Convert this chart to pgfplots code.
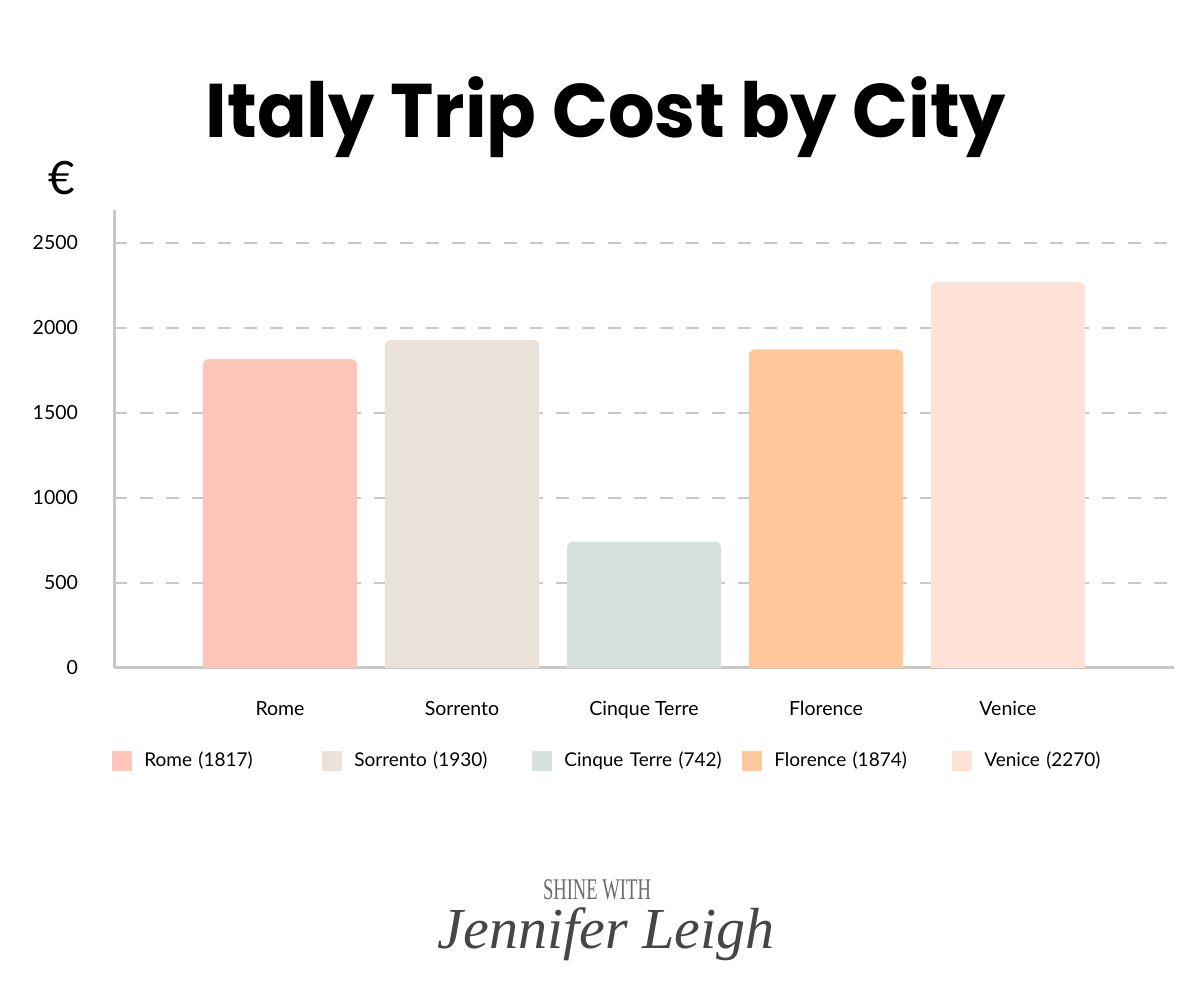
\documentclass[border=0pt]{standalone}
\usepackage{pgfplots}
\pgfplotsset{compat=1.18}
\usepackage{fontspec}
\setmainfont{Lato}
\newfontfamily\titlefont{Poppins}
\newfontfamily\markfont{Liberation Serif}
\definecolor{cRome}{RGB}{253,196,185}
\definecolor{cSorrento}{RGB}{235,226,217}
\definecolor{cCinque}{RGB}{214,225,219}
\definecolor{cFlorence}{RGB}{255,199,154}
\definecolor{cVenice}{RGB}{255,226,214}
\definecolor{axgray}{RGB}{200,200,200}
\definecolor{markgray}{RGB}{70,70,70}
\newcommand{\citybar}[3]{%
  \addplot[fill=#3, draw=none, bar shift=0pt, rounded corners=3pt] table[row sep=\\] {x y\\ #1 #2\\};
  \addplot[fill=#3, draw=none, bar shift=0pt, sharp corners, forget plot] table[row sep=\\, y expr=\thisrow{y}/2] {x y\\ #1 #2\\};
}
\begin{document}
\begin{tikzpicture}[x=1pt,y=1pt]
\path[use as bounding box, fill=white] (0,0) rectangle (600,500);
\node[anchor=base, font=\titlefont\bfseries\fontsize{38}{38}\selectfont] at (303,431) {\scalebox{0.965}[1]{Italy Trip Cost by City}};
\node[anchor=base, font=\fontsize{23}{23}\selectfont] at (31,402.5) {€};
\begin{axis}[
  at={(57pt,166pt)}, anchor=south west,
  scale only axis, width=530pt, height=229pt,
  ybar, bar width=77pt,
  xmin=-0.912, xmax=4.912, ymin=0, ymax=2694,
  axis x line*=bottom, axis y line*=left,
  axis line style={draw=axgray, line width=1.5pt},
  major tick length=0pt,
  xtick={0,1,2,3,4},
  xticklabels={Rome,Sorrento,Cinque Terre,Florence,Venice},
  ytick={0,500,1000,1500,2000,2500},
  ymajorgrids,
  grid style={draw=axgray, line width=1pt, dash pattern=on 6.25pt off 6.75pt, dash phase=0pt},
  /pgf/number format/assume math mode=true,
  /pgf/number format/1000 sep={},
  tick label style={font=\fontsize{9.75}{12}\selectfont, text=black},
  yticklabel style={xshift=-14.5pt},
  xticklabel style={yshift=-13pt},
  legend columns=5,
  legend image code/.code={\fill[#1, sharp corners] (0pt,-5pt) rectangle (10pt,5pt);},
  legend style={at={(0,0)}, anchor=west, xshift=-1pt, yshift=-46.5pt,
    draw=none, fill=none, inner sep=0pt,
    font=\fontsize{9.5}{12}\selectfont,
    nodes={text width=89pt, inner sep=0pt, align=left},
    /tikz/every odd column/.append style={column sep=6pt}},
]
\citybar{0}{1817}{cRome}
\addlegendentry{Rome (1817)}
\citybar{1}{1930}{cSorrento}
\addlegendentry{Sorrento (1930)}
\citybar{2}{742}{cCinque}
\addlegendentry{Cinque Terre (742)}
\citybar{3}{1874}{cFlorence}
\addlegendentry{Florence (1874)}
\citybar{4}{2270}{cVenice}
\addlegendentry{Venice (2270)}
\end{axis}
\node[anchor=base, inner sep=0pt, text=markgray!80, font=\markfont\fontsize{15}{15}\selectfont] at (298.5,50) {\scalebox{0.62}[1]{SHINE WITH}};
\node[anchor=base, inner sep=0pt, text=markgray, font=\markfont\itshape\fontsize{29}{29}\selectfont] at (303,25.5) {Jennifer Leigh};
\end{tikzpicture}
\end{document}
